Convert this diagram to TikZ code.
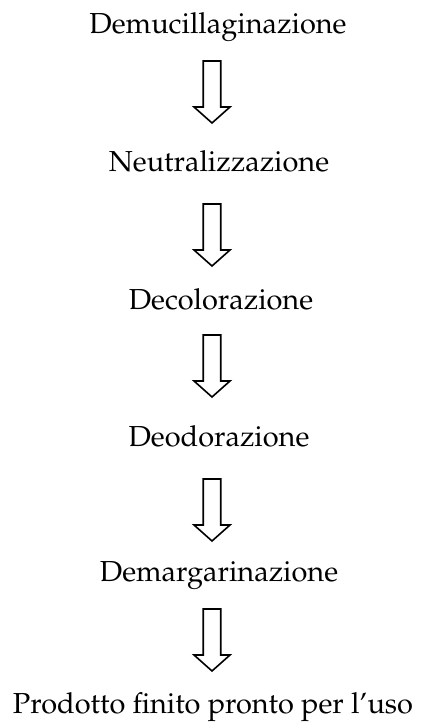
\documentclass[tikz,border=0pt]{standalone}
\usepackage[T1]{fontenc}
\usepackage{mathpazo}
\begin{document}
\begin{tikzpicture}[x=0.75pt,y=-0.75pt,
  steptext/.style={anchor=base,inner sep=0pt,font=\fontsize{21.7}{26}\selectfont},
  arrowline/.style={draw=black,line width=1.2pt,fill=white,line join=miter},
  downarrow/.pic={\draw[arrowline] (-8.75,0) -- (8.75,0) -- (8.75,46) -- (18,46) -- (0,62) -- (-18,46) -- (-8.75,46) -- cycle;}]
\useasboundingbox (0,0) rectangle (424,725);
\node[steptext] (n1) at (218,33) {Demucillaginazione};
\node[steptext] (n2) at (219,171) {Neutralizzazione};
\node[steptext] (n3) at (221,309) {Decolorazione};
\node[steptext] (n4) at (219,446) {Deodorazione};
\node[steptext] (n5) at (219,581) {Demargarinazione};
\node[steptext] (n6) at (213,713) {Prodotto finito pronto per l'uso};
\coordinate (a1) at (212,61);
\coordinate (a2) at (212,204);
\coordinate (a3) at (212,335);
\coordinate (a4) at (212,479);
\coordinate (a5) at (212,609);
\foreach \a in {a1,a2,a3,a4,a5} \pic at (\a) {downarrow};
\end{tikzpicture}
\end{document}
